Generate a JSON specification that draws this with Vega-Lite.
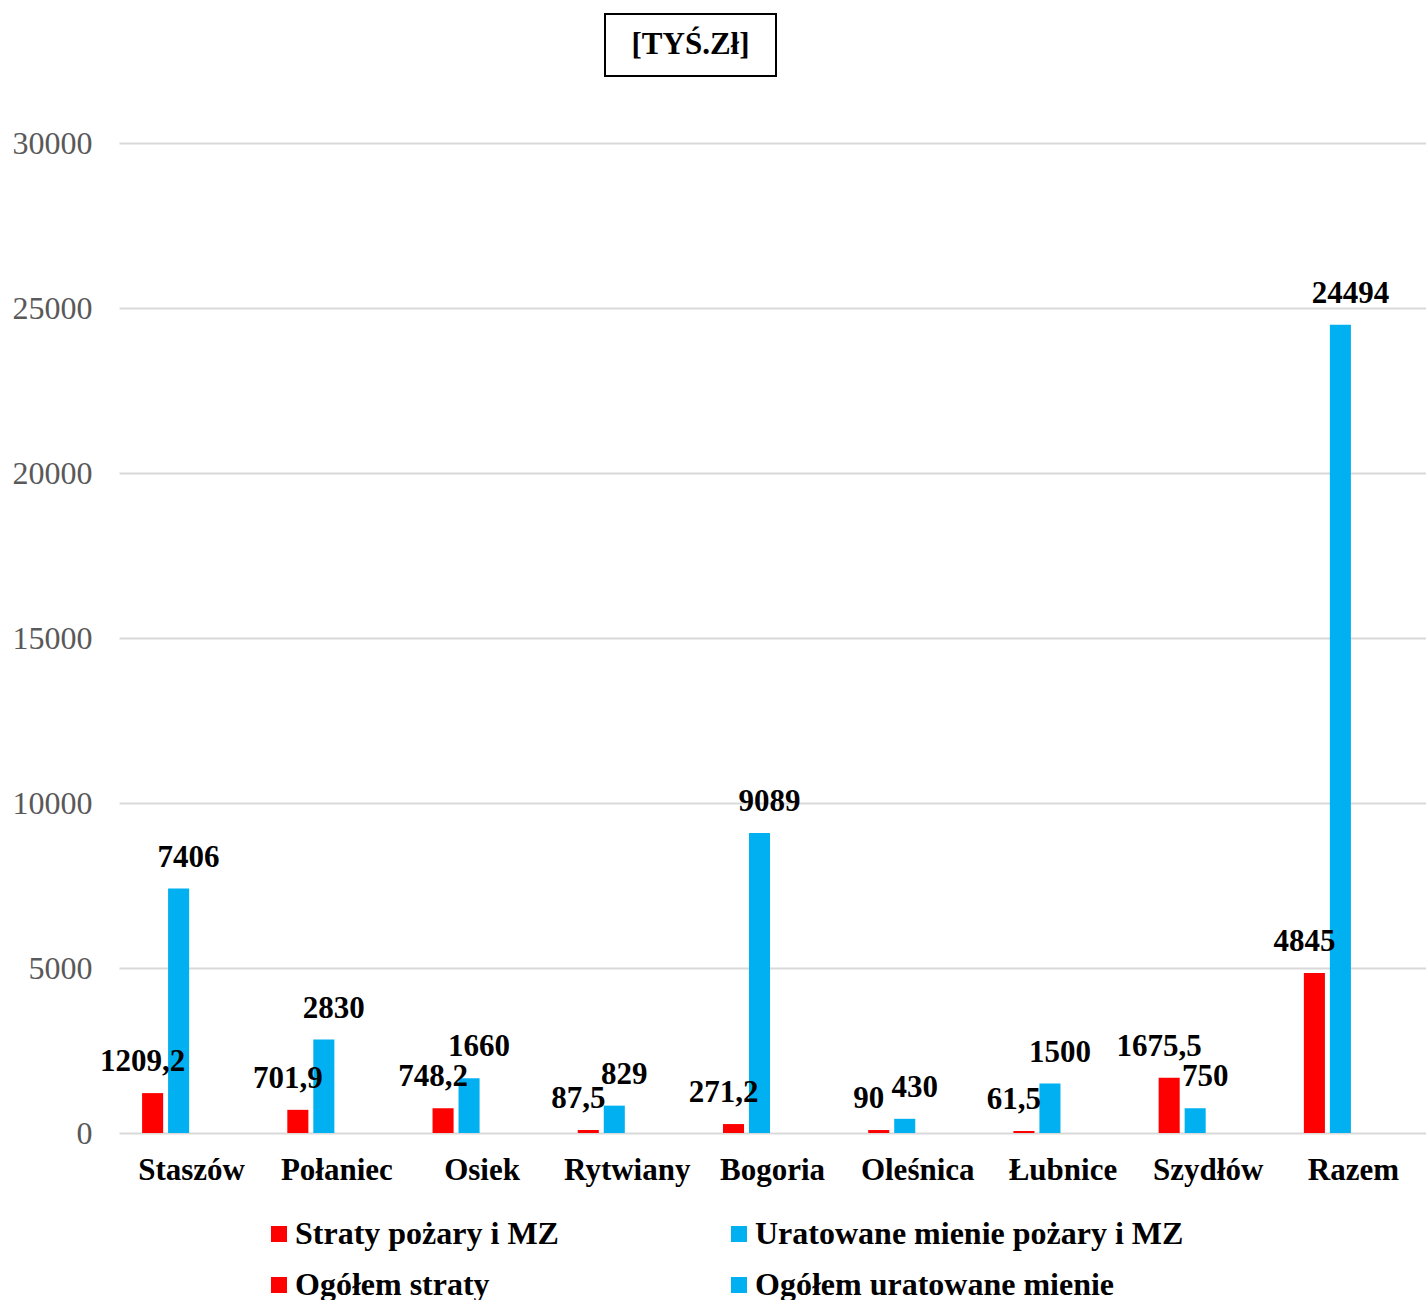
{
  "$schema": "https://vega.github.io/schema/vega-lite/v6.json",
  "padding": {"left": 12, "top": 13, "right": 0, "bottom": 0},
  "background": "white",
  "config": {
    "locale": {"number": {"decimal": ",", "thousands": "", "grouping": [3], "currency": ["", ""]}},
    "font": "Liberation Serif",
    "view": {"stroke": null}
  },
  "spacing": 50,
  "vconcat": [
    {
      "spacing": 0,
      "hconcat": [
        {
          "width": 485,
          "height": 62,
          "data": {"values": [{"t": ""}]},
          "mark": {"type": "text", "opacity": 0},
          "encoding": {"text": {"field": "t", "type": "nominal"}}
        },
        {
          "width": 171,
          "height": 62,
          "view": {"stroke": "black", "strokeWidth": 2},
          "data": {"values": [{"t": "[TYŚ.Zł]"}]},
          "mark": {"type": "text", "font": "Liberation Serif", "fontSize": 31, "fontWeight": "bold", "color": "black", "baseline": "middle", "align": "center"},
          "encoding": {"text": {"field": "t", "type": "nominal"}}
        }
      ]
    },
    {
      "width": 1307,
      "height": 990,
      "data": {
        "values": [
          {"gmina": "Staszów", "seria": "Straty pożary i MZ", "wartosc": 1209.2},
          {"gmina": "Staszów", "seria": "Uratowane mienie pożary i MZ", "wartosc": 7406},
          {"gmina": "Połaniec", "seria": "Straty pożary i MZ", "wartosc": 701.9},
          {"gmina": "Połaniec", "seria": "Uratowane mienie pożary i MZ", "wartosc": 2830},
          {"gmina": "Osiek", "seria": "Straty pożary i MZ", "wartosc": 748.2},
          {"gmina": "Osiek", "seria": "Uratowane mienie pożary i MZ", "wartosc": 1660},
          {"gmina": "Rytwiany", "seria": "Straty pożary i MZ", "wartosc": 87.5},
          {"gmina": "Rytwiany", "seria": "Uratowane mienie pożary i MZ", "wartosc": 829},
          {"gmina": "Bogoria", "seria": "Straty pożary i MZ", "wartosc": 271.2},
          {"gmina": "Bogoria", "seria": "Uratowane mienie pożary i MZ", "wartosc": 9089},
          {"gmina": "Oleśnica", "seria": "Straty pożary i MZ", "wartosc": 90},
          {"gmina": "Oleśnica", "seria": "Uratowane mienie pożary i MZ", "wartosc": 430},
          {"gmina": "Łubnice", "seria": "Straty pożary i MZ", "wartosc": 61.5},
          {"gmina": "Łubnice", "seria": "Uratowane mienie pożary i MZ", "wartosc": 1500},
          {"gmina": "Szydłów", "seria": "Straty pożary i MZ", "wartosc": 1675.5},
          {"gmina": "Szydłów", "seria": "Uratowane mienie pożary i MZ", "wartosc": 750},
          {"gmina": "Razem", "seria": "Straty pożary i MZ", "wartosc": 4845},
          {"gmina": "Razem", "seria": "Uratowane mienie pożary i MZ", "wartosc": 24494}
        ]
      },
      "encoding": {
        "x": {
          "field": "gmina", "type": "nominal", "sort": null,
          "scale": {"paddingInner": 0.284, "paddingOuter": 0.142},
          "axis": {"title": null, "labelAngle": 0, "labelFont": "Liberation Serif", "labelFontSize": 31, "labelFontWeight": "bold", "labelColor": "black", "labelPadding": 22, "ticks": false, "domain": false}
        },
        "xOffset": {
          "field": "seria", "type": "nominal",
          "scale": {"domain": ["Straty pożary i MZ", "Uratowane mienie pożary i MZ", "Ogółem straty", "Ogółem uratowane mienie"], "paddingInner": 0.19, "paddingOuter": 0.095}
        },
        "y": {
          "field": "wartosc", "type": "quantitative",
          "scale": {"domain": [0, 30000], "nice": false},
          "axis": {"title": null, "values": [0, 5000, 10000, 15000, 20000, 25000, 30000], "format": "d", "labelFont": "Liberation Serif", "labelFontSize": 32, "labelColor": "#595959", "labelPadding": 27, "ticks": false, "domain": false, "gridColor": "#d9d9d9", "gridWidth": 2}
        }
      },
      "layer": [
        {
          "mark": {"type": "bar"},
          "encoding": {
            "color": {
              "field": "seria", "type": "nominal",
              "scale": {"domain": ["Straty pożary i MZ", "Uratowane mienie pożary i MZ", "Ogółem straty", "Ogółem uratowane mienie"], "range": ["#FF0000", "#00B0F0", "#FF0000", "#00B0F0"]},
              "legend": {"orient": "none", "direction": "horizontal", "legendX": 144, "legendY": 1204, "columns": 2, "columnPadding": 164, "rowPadding": 19, "padding": 0, "symbolType": "square", "symbolSize": 256, "symbolStrokeWidth": 0, "labelFont": "Liberation Serif", "labelFontSize": 32, "labelFontWeight": "bold", "labelColor": "black", "labelOffset": 0, "labelLimit": 0, "title": null}
            }
          }
        },
        {
          "transform": [{"filter": "datum.seria == 'Straty pożary i MZ'"}],
          "mark": {"type": "text", "font": "Liberation Serif", "fontSize": 31, "fontWeight": "bold", "color": "black", "baseline": "middle", "dy": -31, "dx": -10},
          "encoding": {"text": {"field": "wartosc", "type": "quantitative", "format": ".1~f"}}
        },
        {
          "transform": [{"filter": "datum.seria == 'Uratowane mienie pożary i MZ'"}],
          "mark": {"type": "text", "font": "Liberation Serif", "fontSize": 31, "fontWeight": "bold", "color": "black", "baseline": "middle", "dy": -31, "dx": 10},
          "encoding": {"text": {"field": "wartosc", "type": "quantitative", "format": ".1~f"}}
        }
      ]
    }
  ]
}
